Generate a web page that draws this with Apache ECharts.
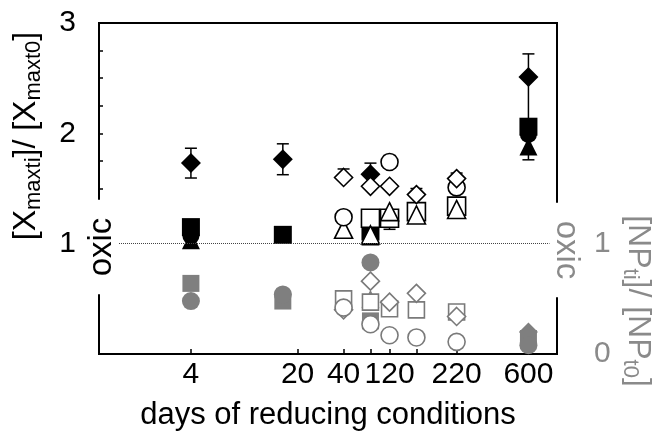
<!DOCTYPE html>
<html>
<head>
<meta charset="utf-8">
<script src="https://cdn.jsdelivr.net/npm/echarts@6/dist/echarts.min.js"></script>
<style>
  html, body { margin: 0; padding: 0; background: #fff; }
  #chart { width: 658px; height: 436px; }
</style>
</head>
<body>
<div id="chart"></div>
<script>
// x axis (days, log scale)
var tickDays = [4, 20, 40, 60, 80, 120, 220, 650];
var labelDays = [4, 20, 40, 80, 220, 650];
var labelText = ['4', '20', '40', '120', '220', '600'];
// y axes
var leftTicks = [1.25, 1.5, 1.75, 2, 2.25, 2.5, 2.75];
var leftLabels = [1, 2, 3];
var rightLabels = [0, 1];

// upper part, [Xmax ti]/[Xmax t0], filled black  [day, value]
var fDiamond = [[4, 1.73], [16, 1.765], [60, 1.63], [650, 2.51]];
var fDiamondErr = [[0.135, 0.135], [0.14, 0.14], [0.1, 0.1], [0.42, 0.21]]; // [minus, plus]
var fSquare = [[4, 1.15], [16, 1.08], [60, 1.11], [650, 2.06]];
var fCircle = [[4, 1.07], [650, 1.99]];
var fTriangle = [[4, 1.03], [60, 1.065], [650, 1.88]];
var fTriangleErr = [[0, 0], [0, 0], [0.12, 0]];

// upper part, open black
var oDiamond = [[40, 1.6], [60, 1.52], [80, 1.52], [120, 1.445], [220, 1.59]];
var oDiamondErr = [[0, 0.077], [0, 0], [0, 0], [0, 0.055], [0, 0.05]];
var oCircle = [[40, 1.24], [80, 1.74], [220, 1.51]];
var oCircleErr = [[0, 0], [0, 0.06], [0, 0]];
var oSquare = [[60, 1.23], [80, 1.23], [120, 1.29], [220, 1.34]];
var oSquareErr = [[0, 0], [0.1, 0], [0.1, 0], [0.1, 0]];
var oTriangle = [[40, 1.13], [60, 1.08], [80, 1.29], [120, 1.26], [220, 1.31]];

// lower part, [NP ti]/[NP t0], filled grey
var gSquare = [[4, 0.64], [16, 0.48], [60, 0.30], [650, 0.14]];
var gCircle = [[4, 0.48], [16, 0.54], [60, 0.83], [650, 0.08]];
var gTriangle = [[60, 0.50]];
var gDiamond = [[650, 0.2]];
// lower part, open grey
var goDiamond = [[40, 0.40], [60, 0.66], [80, 0.47], [120, 0.55], [220, 0.34]];
var goSquare = [[40, 0.50], [60, 0.47], [80, 0.41], [120, 0.40], [220, 0.38]];
var goCircle = [[40, 0.42], [60, 0.27], [80, 0.17], [120, 0.15], [220, 0.11]];

var FONT = 'Liberation Sans';
var GREY = '#7f7f7f';
var GREY_LINE = '#7a7a7a';
var GREY_TXT = '#8a8a8a';

// error bar rows [day, low, high, value]
var errRows = [];
function addErr(pts, errs) {
    for (var i = 0; i < pts.length; i++) {
        var e = errs[i];
        if (!e[0] && !e[1]) continue;
        errRows.push([pts[i][0], pts[i][1] - e[0], pts[i][1] + e[1], pts[i][1]]);
    }
}
addErr(fDiamond, fDiamondErr);
addErr(fTriangle, fTriangleErr);
addErr(oDiamond, oDiamondErr);
addErr(oCircle, oCircleErr);
addErr(oSquare, oSquareErr);

function scatter(data, symbol, size, fill, stroke, yIdx) {
    return {
        type: 'scatter',
        yAxisIndex: yIdx,
        data: data,
        symbol: symbol,
        symbolSize: size,
        itemStyle: {color: fill, borderColor: stroke, borderWidth: fill === stroke ? 0 : 1.6, opacity: 1},
        emphasis: {disabled: true},
        silent: true
    };
}

var myChart = echarts.init(document.getElementById('chart'));
var option = {
    animation: false,
    backgroundColor: '#fff',
    textStyle: {fontFamily: FONT},
    grid: {left: 99, right: 101, top: 23, bottom: 81, show: true, borderColor: '#000', borderWidth: 2},
    xAxis: {
        type: 'log', logBase: 10, min: 1, max: 1000,
        axisLine: {show: false},
        splitLine: {show: false},
        axisTick: {inside: true, length: 5, customValues: tickDays, lineStyle: {color: '#000', width: 1.5}},
        axisLabel: {
            customValues: labelDays,
            fontSize: 30, color: '#000', margin: 6, fontFamily: FONT,
            formatter: function (v) {
                for (var i = 0; i < labelDays.length; i++) {
                    if (Math.abs(labelDays[i] - v) < 0.5) return labelText[i];
                }
                return '';
            }
        },
        name: 'days of reducing conditions',
        nameLocation: 'middle',
        nameGap: 46,
        nameTextStyle: {fontSize: 31, color: '#000', fontFamily: FONT}
    },
    yAxis: [{
        type: 'value', min: 0, max: 3, interval: 1, position: 'left',
        axisLine: {show: false},
        splitLine: {show: false},
        axisTick: {inside: true, length: 4, customValues: leftTicks, lineStyle: {color: '#000', width: 1.5}},
        axisLabel: {customValues: leftLabels, fontSize: 30, color: '#000', margin: 23, fontFamily: FONT}
    }, {
        type: 'value', min: 0, max: 3, interval: 1, position: 'right',
        axisLine: {show: false},
        splitLine: {show: false},
        axisTick: {show: false},
        axisLabel: {customValues: rightLabels, fontSize: 30, color: GREY_TXT, margin: 37, fontFamily: FONT}
    }],
    series: [{
        type: 'custom',
        silent: true,
        data: errRows,
        encode: {x: 0, y: [1, 2]},
        renderItem: function (params, api) {
            var x = api.value(0), lo = api.value(1), hi = api.value(2), v = api.value(3);
            var pLo = api.coord([x, lo]);
            var pHi = api.coord([x, hi]);
            var st = {stroke: '#000', lineWidth: 1.5};
            var kids = [{type: 'line', shape: {x1: pLo[0], y1: pLo[1], x2: pHi[0], y2: pHi[1]}, style: st}];
            if (hi > v) kids.push({type: 'line', shape: {x1: pHi[0] - 6, y1: pHi[1], x2: pHi[0] + 6, y2: pHi[1]}, style: st});
            if (lo < v) kids.push({type: 'line', shape: {x1: pLo[0] - 6, y1: pLo[1], x2: pLo[0] + 6, y2: pLo[1]}, style: st});
            return {type: 'group', children: kids};
        },
        markLine: {
            silent: true,
            symbol: 'none',
            label: {show: false},
            lineStyle: {color: '#444', width: 1, type: [1, 1]},
            data: [{yAxis: 1}]
        }
    },
        // grey, lower part (right axis)
        scatter(gDiamond, 'diamond', 19, GREY, GREY, 1),
        scatter(gSquare, 'rect', 17, GREY, GREY, 1),
        scatter(gCircle, 'circle', 18, GREY, GREY, 1),
        scatter(gTriangle, 'triangle', 18, GREY, GREY, 1),
        scatter(goSquare, 'rect', 16, '#fff', GREY_LINE, 1),
        scatter(goDiamond, 'diamond', 18, '#fff', GREY_LINE, 1),
        scatter(goCircle, 'circle', 17, '#fff', GREY_LINE, 1),
        // black, upper part (left axis)
        scatter(fTriangle, 'triangle', 18, '#000', '#000', 0),
        scatter(fCircle, 'circle', 17, '#000', '#000', 0),
        scatter(fSquare, 'rect', 18, '#000', '#000', 0),
        scatter(fDiamond, 'diamond', 20, '#000', '#000', 0),
        scatter(oSquare, 'rect', 18, '#fff', '#000', 0),
        scatter(oTriangle, 'triangle', 18, '#fff', '#000', 0),
        scatter(oCircle, 'circle', 17, '#fff', '#000', 0),
        scatter(oDiamond, 'diamond', 18, '#fff', '#000', 0)
    ],
    graphic: [{
        type: 'text', x: 26, y: 136, rotation: Math.PI / 2, silent: true,
        style: {
            text: '{m|[X}{s|maxti}{m|]/ [X}{s|maxt0}{m|]}',
            align: 'center', verticalAlign: 'middle', fill: '#000',
            rich: {
                m: {fontSize: 32, lineHeight: 32, verticalAlign: 'top', fontFamily: FONT, fill: '#000'},
                s: {fontSize: 22, lineHeight: 22, padding: [13, 0, 0, 0], verticalAlign: 'top', fontFamily: FONT, fill: '#000'}
            }
        }
    }, {
        type: 'text', x: 638, y: 301, rotation: -Math.PI / 2, silent: true,
        style: {
            text: '{m|[NP}{s|ti}{m|]/ [NP}{s|t0}{m|]}',
            align: 'center', verticalAlign: 'middle', fill: GREY_TXT,
            rich: {
                m: {fontSize: 32, lineHeight: 32, verticalAlign: 'top', fontFamily: FONT, fill: GREY_TXT},
                s: {fontSize: 22, lineHeight: 22, padding: [13, 0, 0, 0], verticalAlign: 'top', fontFamily: FONT, fill: GREY_TXT}
            }
        }
    }, {
        type: 'text', x: 102, y: 247, rotation: Math.PI / 2, silent: true, z: 100,
        style: {
            text: 'oxic', fontSize: 33, lineHeight: 33, fontFamily: FONT, fill: '#000',
            align: 'center', verticalAlign: 'middle',
            backgroundColor: '#fff', padding: [0, 18]
        }
    }, {
        type: 'text', x: 566, y: 250, rotation: -Math.PI / 2, silent: true, z: 100,
        style: {
            text: 'oxic', fontSize: 33, lineHeight: 33, fontFamily: FONT, fill: GREY_TXT,
            align: 'center', verticalAlign: 'middle',
            backgroundColor: '#fff', padding: [0, 18]
        }
    }]
};
myChart.setOption(option);
</script>
</body>
</html>
